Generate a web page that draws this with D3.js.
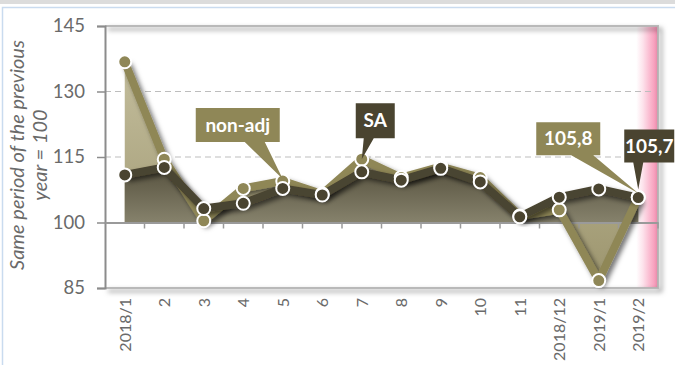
<!DOCTYPE html>
<html>
<head>
<meta charset="utf-8">
<script src="https://cdn.jsdelivr.net/npm/d3@7"></script>
<style>
  html, body { margin: 0; padding: 0; background: #fff; }
  svg { display: block; font-family: Lato, "Open Sans", sans-serif; }
</style>
</head>
<body>
<svg id="chart"></svg>
<script>
const categories = ["2018/1", "2", "3", "4", "5", "6", "7", "8", "9", "10", "11", "2018/12", "2019/1", "2019/2"];
const nonAdj = [136.8, 114.5, 100.4, 107.8, 109.5, 106.5, 114.5, 110.3, 112.8, 110.3, 101.5, 102.9, 86.7, 105.8];
const sa = [110.9, 112.6, 103.2, 104.4, 107.8, 106.3, 111.6, 109.7, 112.4, 109.3, 101.3, 105.8, 107.7, 105.7];
const yTicks = [85, 100, 115, 130, 145];

const w = 675, h = 365;
const pLeft = 105, pRight = 658, pTop = 26, pBottom = 288;
const olive = "#8f8757", dark = "#4a4430";
const textGray = "#6a6a6a";

const svg = d3.select("#chart").attr("width", w).attr("height", h);
const defs = svg.append("defs");

// shadow for lines and frame
const sh = defs.append("filter").attr("id", "shadow")
  .attr("x", "-10%").attr("y", "-10%").attr("width", "130%").attr("height", "130%");
sh.append("feDropShadow").attr("dx", 3).attr("dy", 3).attr("stdDeviation", 2.5)
  .attr("flood-color", "#000").attr("flood-opacity", 0.55);

const gNon = defs.append("linearGradient").attr("id", "gNon").attr("x1", 0).attr("x2", 0).attr("y1", 0).attr("y2", 1);
gNon.append("stop").attr("offset", "0%").attr("stop-color", "#c3bd9c");
gNon.append("stop").attr("offset", "100%").attr("stop-color", "#9d966f");

const gSa = defs.append("linearGradient").attr("id", "gSa").attr("x1", 0).attr("x2", 0).attr("y1", 0).attr("y2", 1);
gSa.append("stop").attr("offset", "0%").attr("stop-color", "#57523f");
gSa.append("stop").attr("offset", "100%").attr("stop-color", "#86826c");

const gPink = defs.append("linearGradient").attr("id", "gPink").attr("x1", 0).attr("x2", 1).attr("y1", 0).attr("y2", 0);
gPink.append("stop").attr("offset", "0%").attr("stop-color", "#ffffff");
gPink.append("stop").attr("offset", "30%").attr("stop-color", "#fde3ec");
gPink.append("stop").attr("offset", "65%").attr("stop-color", "#fab6cd");
gPink.append("stop").attr("offset", "100%").attr("stop-color", "#f48db0");

// outer frame bits
svg.append("rect").attr("x", 0).attr("y", 0).attr("width", w).attr("height", 4).attr("fill", "#dcdcdc");
svg.append("path").attr("d", `M2.5,${h} V7.5 H${w}`).attr("fill", "none").attr("stroke", "#c9dbef").attr("stroke-width", 1.5);

const x = d3.scaleBand().domain(categories).range([pLeft, pRight]);
const y = d3.scaleLinear().domain([85, 145]).range([pBottom, pTop]);
const cx = (d) => x(d) + x.bandwidth() / 2;

// pink band at the last category
const pinkX = cx("2019/2") - 2;
svg.append("rect")
  .attr("x", pinkX).attr("y", pTop)
  .attr("width", pRight - pinkX).attr("height", pBottom - pTop)
  .attr("fill", "url(#gPink)");

// dashed gridlines
svg.append("g").selectAll("line").data([115, 130]).enter().append("line")
  .attr("x1", pLeft).attr("x2", pRight - 4).attr("y1", (d) => y(d)).attr("y2", (d) => y(d))
  .attr("stroke", "#bdbdbd").attr("stroke-width", 1.2).attr("stroke-dasharray", "6,4");

// areas
const area = d3.area().x((d, i) => cx(categories[i])).y0(y(100)).y1((d) => y(d));
svg.append("path").datum(nonAdj).attr("d", area).attr("fill", "url(#gNon)");
svg.append("path").datum(sa).attr("d", area).attr("fill", "url(#gSa)");

// frame lines
svg.append("path")
  .attr("d", `M${pLeft},${pTop} H${pRight} V${pBottom} H${pLeft}`)
  .attr("fill", "none").attr("stroke", "#b3b3b3").attr("stroke-width", 2)
  .attr("filter", "url(#shadow)").attr("stroke-opacity", 0.9);

// y axis
const yAxis = d3.axisLeft(y).tickValues(yTicks).tickSize(8).tickPadding(12);
const ya = svg.append("g").attr("transform", `translate(${pLeft},0)`).call(yAxis);
ya.select(".domain").attr("stroke", "#8c8c8c").attr("stroke-width", 2);
ya.selectAll(".tick line").attr("stroke", "#8c8c8c").attr("stroke-width", 1.5);
ya.selectAll(".tick text").attr("fill", textGray).style("font-size", "18.5px")
  .style("font-family", "Lato, sans-serif");

// x axis crossing at 100
const xAxis = d3.axisBottom(x).tickSize(0).tickFormat("");
const xa = svg.append("g").attr("transform", `translate(0,${y(100)})`).call(xAxis);
xa.select(".domain").attr("stroke", "#9a9a9a").attr("stroke-width", 2);
xa.selectAll(".bnd").data(categories.slice(1)).enter().append("line")
  .attr("x1", (d) => x(d)).attr("x2", (d) => x(d)).attr("y1", 0).attr("y2", 6)
  .attr("stroke", "#9a9a9a").attr("stroke-width", 1.5);
xa.append("line").attr("x1", pRight).attr("x2", pRight).attr("y1", 0).attr("y2", 6)
  .attr("stroke", "#9a9a9a").attr("stroke-width", 1.5);

// x labels under the plot
svg.append("g").selectAll("text").data(categories).enter().append("text")
  .attr("transform", (d) => `translate(${cx(d) + 6},${pBottom + 10}) rotate(-90)`)
  .attr("text-anchor", "end")
  .attr("fill", textGray).style("font-size", "16px")
  .text((d) => d);

// y title
const yt = svg.append("text")
  .attr("transform", `translate(24,155) rotate(-90)`)
  .attr("text-anchor", "middle").attr("fill", textGray)
  .style("font-size", "20px").style("font-style", "italic");
yt.append("tspan").attr("x", 0).attr("dy", 0).text("Same period of the previous");
yt.append("tspan").attr("x", 0).attr("dy", 23).text("year = 100");

// lines
const line = d3.line().x((d, i) => cx(categories[i])).y((d) => y(d));
svg.append("path").datum(nonAdj).attr("d", line).attr("fill", "none")
  .attr("stroke", olive).attr("stroke-width", 8).attr("stroke-linejoin", "round")
  .attr("filter", "url(#shadow)");
svg.append("path").datum(sa).attr("d", line).attr("fill", "none")
  .attr("stroke", dark).attr("stroke-width", 8).attr("stroke-linejoin", "round")
  .attr("filter", "url(#shadow)");

// markers
svg.append("g").selectAll("circle").data(nonAdj).enter().append("circle")
  .attr("cx", (d, i) => cx(categories[i])).attr("cy", (d) => y(d)).attr("r", 6.5)
  .attr("fill", olive).attr("stroke", "#fff").attr("stroke-width", 2);
svg.append("g").selectAll("circle").data(sa).enter().append("circle")
  .attr("cx", (d, i) => cx(categories[i])).attr("cy", (d) => y(d)).attr("r", 6.5)
  .attr("fill", dark).attr("stroke", "#fff").attr("stroke-width", 2);

// callouts: box placed relative to the data point it points at
const callouts = [
  { text: "non-adj", idx: 4, vals: nonAdj, color: olive, bx: -87, by: -73, bw: 84, bh: 34, b0: -38, b1: -18, tipDy: -2 },
  { text: "SA", idx: 6, vals: nonAdj, color: dark, bx: -6, by: -56, bw: 39, bh: 35, b0: 2, b1: 12, tipDy: 0 },
  { text: "105,8", idx: 13, vals: nonAdj, color: olive, bx: -102, by: -75, bw: 64, bh: 33, b0: -67, b1: -45, tipDy: -4 },
  { text: "105,7", idx: 13, vals: sa, color: dark, bx: -14, by: -68, bw: 50, bh: 33, b0: -5, b1: 5, tipDy: -8 }
];
callouts.forEach((c) => {
  const px = cx(categories[c.idx]), py = y(c.vals[c.idx]);
  const bx = px + c.bx, by = py + c.by;
  const g = svg.append("g");
  g.append("path")
    .attr("d", `M${bx},${by} H${bx + c.bw} V${by + c.bh} H${px + c.b1} L${px},${py + c.tipDy} L${px + c.b0},${by + c.bh} H${bx} Z`)
    .attr("fill", c.color);
  g.append("text").attr("x", bx + c.bw / 2).attr("y", by + c.bh / 2 + 6.5)
    .attr("text-anchor", "middle").attr("fill", "#fff")
    .style("font-size", "19px").style("font-weight", "bold")
    .text(c.text);
});
</script>
</body>
</html>
